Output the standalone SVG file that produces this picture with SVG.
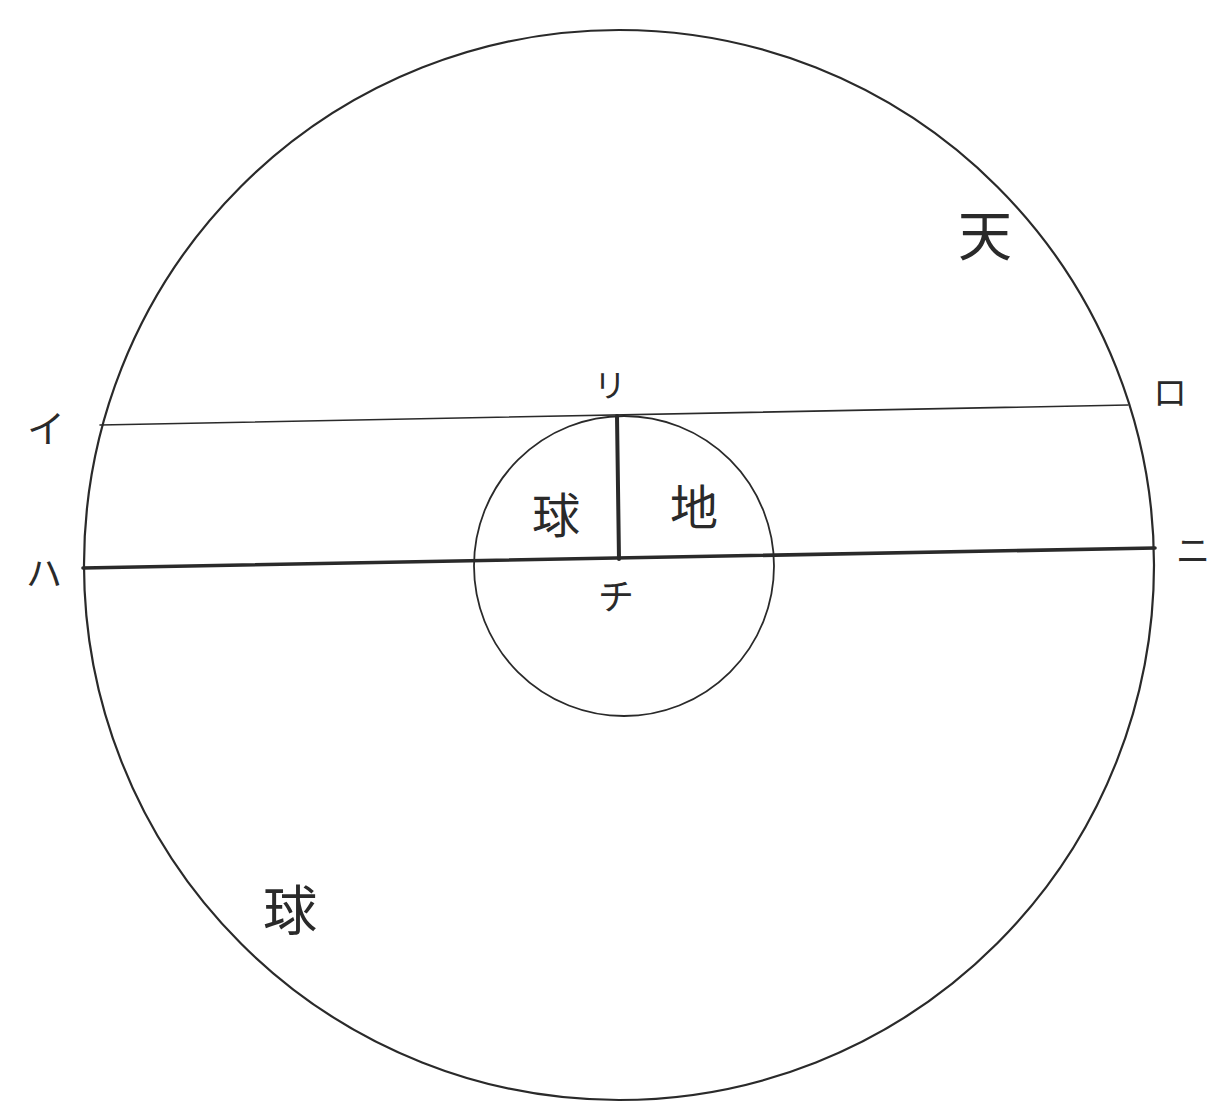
<svg xmlns="http://www.w3.org/2000/svg" width="1220" height="1102" viewBox="0 0 1220 1102">
<style>
.ln{stroke:#2a2a2a;fill:none;stroke-linecap:round}
.t{font-family:"Noto Sans CJK JP","Noto Sans CJK SC",sans-serif;fill:#2a2a2a;text-anchor:middle;font-weight:400}
</style>
<rect width="1220" height="1102" fill="#ffffff"/>
<g id="heaven">
<circle class="ln" cx="619" cy="565" r="535" stroke-width="2.2"/>
</g>
<g id="earth">
<circle class="ln" cx="624" cy="566" r="150" stroke-width="1.8"/>
</g>
<g id="connectors">
<line class="ln" x1="100" y1="425" x2="1128" y2="405" stroke-width="1.6"/>
<line class="ln" x1="83" y1="568" x2="1155" y2="548" stroke-width="3.6"/>
<line class="ln" x1="617" y1="416" x2="619" y2="559" stroke-width="4"/>
</g>
<g id="labels">
<text class="t" x="46" y="442" font-size="38">イ</text>
<text class="t" x="44" y="587" font-size="36">ハ</text>
<text class="t" x="1170" y="405" font-size="34">ロ</text>
<text class="t" x="1193" y="563" font-size="34">ニ</text>
<text class="t" x="610" y="397" font-size="32">リ</text>
<text class="t" x="616" y="610" font-size="36">チ</text>
<text class="t" x="556" y="533" font-size="48">球</text>
<text class="t" x="694" y="525" font-size="48">地</text>
<text class="t" x="985" y="256" font-size="54">天</text>
<text class="t" x="290" y="931" font-size="54">球</text>
</g>
</svg>
